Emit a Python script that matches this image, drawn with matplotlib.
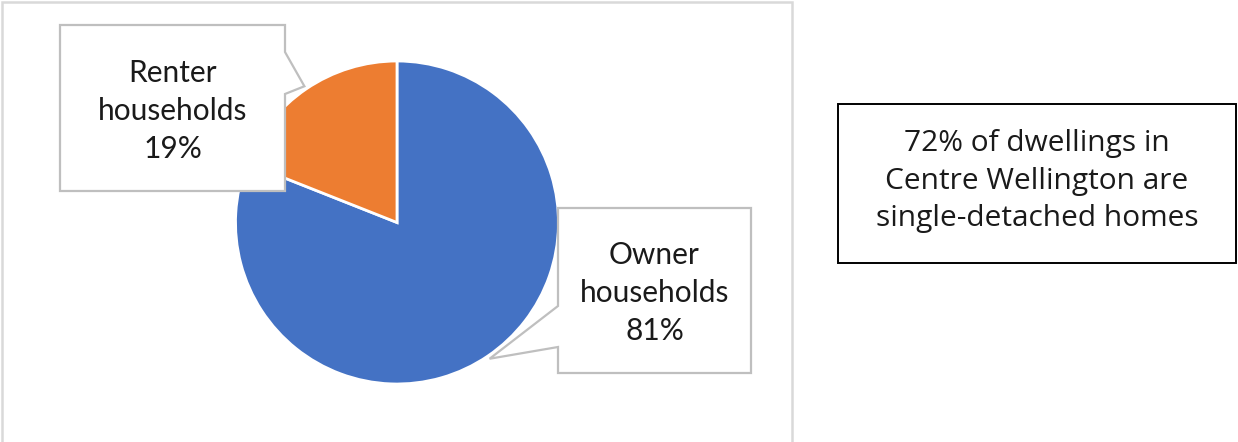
import numpy as np
import matplotlib
matplotlib.use("Agg")
import matplotlib.pyplot as plt
from matplotlib.patches import Polygon, Rectangle

# Tenure split of households
categories = ["Owner households", "Renter households"]
shares = [81, 19]
colors = ["#4472C4", "#ED7D31"]
side_note = "72% of dwellings in\nCentre Wellington are\nsingle-detached homes"

W, H = 1238, 442
fig = plt.figure(figsize=(W / 100, H / 100), dpi=100)
ax = fig.add_axes([0, 0, 1, 1])


def py(y):
    """Convert a top-down pixel row to the axes' bottom-up coordinate."""
    return H - y


center = (397, py(222.5))
radius = 161.5
wedges, _ = ax.pie(shares, colors=colors, startangle=90, counterclock=False,
                   center=center, radius=radius, frame=True,
                   wedgeprops=dict(edgecolor="white", linewidth=2))
ax.set_xlim(0, W)
ax.set_ylim(0, H)
ax.axis("off")
for w in wedges:
    w.set_zorder(2)

# chart area frame
ax.add_patch(Rectangle((1.5, py(442 + 5)), 790, 442 + 3.5, fill=False,
                       edgecolor="#d9d9d9", linewidth=1.8, zorder=1))


def tip_of(wedge):
    mid = np.deg2rad((wedge.theta1 + wedge.theta2) / 2)
    r = wedge.r * 1.02
    return (wedge.center[0] + r * np.cos(mid), wedge.center[1] + r * np.sin(mid))


label_font = dict(family=["Lato", "DejaVu Sans"], fontsize=21.5, color="#1a1a1a")
callout_edge = "#bfbfbf"

# Owner callout (pointer on the left side)
owner_tip = tip_of(wedges[0])
x0, x1, y0, y1 = 558, 751, 208, 373
owner_poly = [(x0, py(y0)), (x1, py(y0)), (x1, py(y1)), (x0, py(y1)),
              (x0, py(347)), owner_tip, (x0, py(306))]
ax.add_patch(Polygon(owner_poly, closed=True, facecolor="white",
                     edgecolor=callout_edge, linewidth=1.6, zorder=3))
ax.text((x0 + x1) / 2, py(293), f"Owner\nhouseholds\n{shares[0]}%",
        ha="center", va="center", linespacing=1.45, zorder=4, **label_font)

# Renter callout (pointer on the right side)
renter_tip = tip_of(wedges[1])
x0, x1, y0, y1 = 60, 285, 25, 191
renter_poly = [(x0, py(y0)), (x1, py(y0)), (x1, py(52)), renter_tip,
               (x1, py(94)), (x1, py(y1)), (x0, py(y1))]
ax.add_patch(Polygon(renter_poly, closed=True, facecolor="white",
                     edgecolor=callout_edge, linewidth=1.6, zorder=3))
ax.text((x0 + x1) / 2, py(111), f"Renter\nhouseholds\n{shares[1]}%",
        ha="center", va="center", linespacing=1.45, zorder=4, **label_font)

# side note box
bx0, bx1, by0, by1 = 838, 1236, 104, 263
ax.add_patch(Rectangle((bx0, py(by1)), bx1 - bx0, by1 - by0, facecolor="white",
                       edgecolor="black", linewidth=1.4, zorder=3))
ax.text((bx0 + bx1) / 2, py(181), side_note, ha="center", va="center",
        family=["Open Sans", "DejaVu Sans"], fontsize=21.5, color="#1a1a1a",
        linespacing=1.38, zorder=4)

fig.savefig("out.png", dpi=100, facecolor="white")
